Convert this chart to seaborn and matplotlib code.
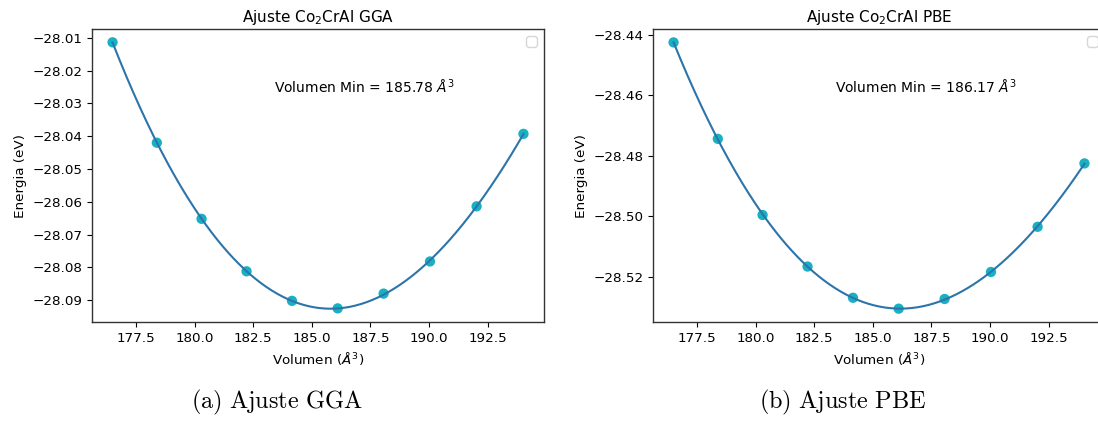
import numpy as np
import pandas as pd
import matplotlib
matplotlib.use("Agg")
import matplotlib.pyplot as plt
import seaborn as sns

# ---- data ----
volumen = [176.49, 178.38, 180.29, 182.21, 184.15, 186.10, 188.06, 190.04, 192.03, 194.03]
energia_gga = [-28.0114, -28.0420, -28.0652, -28.0812, -28.0902, -28.0925,
               -28.0880, -28.0782, -28.0614, -28.0393]
energia_pbe = [-28.4426, -28.4744, -28.4995, -28.5165, -28.5268, -28.5304,
               -28.5272, -28.5183, -28.5034, -28.4825]
xticks = [177.5, 180.0, 182.5, 185.0, 187.5, 190.0, 192.5]
yticks_gga = [-28.01, -28.02, -28.03, -28.04, -28.05, -28.06, -28.07, -28.08, -28.09]
yticks_pbe = [-28.44, -28.46, -28.48, -28.50, -28.52]
titles = [r"Ajuste Co$_2$CrAl GGA", r"Ajuste Co$_2$CrAl PBE"]
annotations = [r"Volumen Min = 185.78 $\AA^3$", r"Volumen Min = 186.17 $\AA^3$"]
captions = [r"$\mathrm{(a)\ Ajuste\ GGA}$", r"$\mathrm{(b)\ Ajuste\ PBE}$"]

W, H = 1098, 425
fig = plt.figure(figsize=(W / 100, H / 100), dpi=100)
fig.patch.set_facecolor("white")

ax_w = 452 / W
ax_h = 293 / H
bottom = 1 - 322 / H
axes = [fig.add_axes([92 / W, bottom, ax_w, ax_h]),
        fig.add_axes([653 / W, bottom, ax_w, ax_h])]

dot_color = "#19b1c2"
line_color = "#2c74aa"
fs = 9.7

for ax, energy, yt, title, ann in zip(axes, [energia_gga, energia_pbe],
                                      [yticks_gga, yticks_pbe], titles, annotations):
    df = pd.DataFrame({"V": volumen, "E": energy})
    coef = np.polyfit(df["V"], df["E"], 3)
    vfit = np.linspace(min(volumen), max(volumen), 300)
    fit = pd.DataFrame({"V": vfit, "E": np.polyval(coef, vfit)})
    sns.scatterplot(data=df, x="V", y="E", ax=ax, color=dot_color, s=55,
                    edgecolor="none", zorder=2, legend=False)
    sns.lineplot(data=fit, x="V", y="E", ax=ax, color=line_color, lw=1.5,
                 zorder=3, legend=False)
    ax.set_xticks(xticks)
    ax.set_xticklabels([f"{t:.1f}" for t in xticks])
    ax.set_yticks(yt)
    ax.set_yticklabels([f"{t:.2f}".replace("-", "\u2212") for t in yt])
    ax.margins(x=0.05, y=0.05)
    ax.tick_params(labelsize=fs)
    ax.set_xlabel(r"Volumen ($\AA^3$)", fontsize=fs)
    ax.set_ylabel("Energia (eV)", fontsize=fs)
    ax.set_title(title, fontsize=11, pad=5)
    ax.text(0.403, 0.80, ann, transform=ax.transAxes, ha="left", va="center",
            fontsize=10)
    for s in ax.spines.values():
        s.set_color("#333333")
        s.set_linewidth(1.0)
    ax.legend(loc="upper right")

fig.text(277 / W, 1 - 402 / H, captions[0], ha="center", va="center",
         fontsize=17.5, math_fontfamily="cm")
fig.text(843 / W, 1 - 402 / H, captions[1], ha="center", va="center",
         fontsize=17.5, math_fontfamily="cm")

fig.savefig("out.png", dpi=100, facecolor="white")
